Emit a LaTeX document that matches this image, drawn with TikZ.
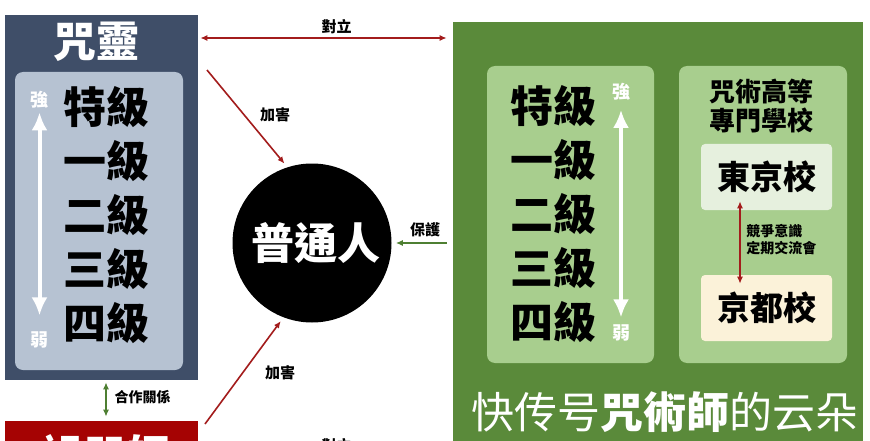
\documentclass[tikz,border=0pt]{standalone}
\usepackage{fontspec}
\setmainfont{Noto Sans CJK TC}
\usetikzlibrary{arrows.meta}

\definecolor{curseblue}{HTML}{3F4E68}
\definecolor{curselight}{HTML}{B6C2D2}
\definecolor{sorcgreen}{HTML}{5A8A3A}
\definecolor{sorclight}{HTML}{A8CE8E}
\definecolor{tokyofill}{HTML}{E6F0DE}
\definecolor{kyotofill}{HTML}{FBF2D9}
\definecolor{hurtred}{HTML}{A31C1C}
\definecolor{boxred}{HTML}{A50303}
\definecolor{helpgreen}{HTML}{4E7F32}

\begin{document}
\begin{tikzpicture}[x=1pt,y=-1pt,semithick,
  >={Latex[length=7pt,width=6pt]},
  panel/.style={rectangle,inner sep=0pt},
  grade/.style={font=\fontsize{43}{43}\selectfont\bfseries},
  big/.style={font=\fontsize{43}{43}\selectfont\bfseries,text=white},
  tag/.style={font=\fontsize{15}{15}\selectfont\bfseries},
  strongweak/.style={font=\fontsize{18}{18}\selectfont\bfseries,text=white,inner sep=0pt},
  hurt/.style={hurtred,line width=1.6pt},
  help/.style={helpgreen,line width=1.6pt},
  updown/.style={white,line width=4pt,{Latex[length=18pt,width=16pt]}-{Latex[length=18pt,width=16pt]}}]

  \useasboundingbox (0,0) rectangle (870,441);
  \clip (0,0) rectangle (870,441);
  \fill[white] (0,0) rectangle (870,441);

  % curses
  \node[panel,fill=curseblue,minimum width=193pt,minimum height=365pt] (curse) at (101.5,197.5) {};
  \node[big] (cursename) at (96.5,42) {咒靈};
  \node[panel,fill=curselight,rounded corners=8pt,minimum width=168pt,minimum height=298pt] (cursebox) at (99,221) {};
  \begin{scope}[node distance=54pt]
    \node[grade] (c0) at (106,107) {特級};
    \node[grade] (c1) [below of=c0] {一級};
    \node[grade] (c2) [below of=c1] {二級};
    \node[grade] (c3) [below of=c2] {三級};
    \node[grade] (c4) [below of=c3] {四級};
  \end{scope}
  \node[strongweak] (cs) at (39.5,100) {強};
  \node[strongweak] (cw) at (39.5,340) {弱};
  \draw[updown] (cs) -- (cw) [shorten <=3.5pt,shorten >=16pt];

  % curse users
  \node[panel,fill=boxred,minimum width=193pt,minimum height=98pt] (users) at (101.5,470) {};
  \node[big] (usersname) at (105,455) {詛咒師};

  % sorcerers
  \node[panel,fill=sorcgreen,minimum width=410pt,minimum height=498pt] (jujutsu) at (658,271) {};
  \node[panel,fill=sorclight,rounded corners=8pt,minimum width=167pt,minimum height=297pt] (sorcbox) at (570.5,214.5) {};
  \begin{scope}[node distance=54pt]
    \node[grade] (s0) at (553.5,106.5) {特級};
    \node[grade] (s1) [below of=s0] {一級};
    \node[grade] (s2) [below of=s1] {二級};
    \node[grade] (s3) [below of=s2] {三級};
    \node[grade] (s4) [below of=s3] {四級};
  \end{scope}
  \node[strongweak] (ss) at (621,92) {強};
  \node[strongweak] (sw) at (621,333) {弱};
  \draw[updown] (ss) -- (sw) [shorten <=9pt,shorten >=7pt];

  \node[panel,fill=sorclight,rounded corners=8pt,minimum width=168pt,minimum height=297pt] (schoolbox) at (763,214.5) {};
  \node[align=center,font=\fontsize{26}{29}\selectfont\bfseries] (school) at (761.5,106.5) {咒術高等\\專門學校};
  \node[panel,fill=tokyofill,rounded corners=4pt,minimum width=131pt,minimum height=66pt] (tokyo) at (766.5,177) {};
  \node[font=\fontsize{33}{33}\selectfont\bfseries] (tokyoname) at (767,177) {東京校};
  \node[panel,fill=kyotofill,rounded corners=4pt,minimum width=131pt,minimum height=66pt] (kyoto) at (766.5,308) {};
  \node[font=\fontsize{33}{33}\selectfont\bfseries] (kyotoname) at (767,308) {京都校};
  \draw[hurt,<->,shorten <=-9pt,shorten >=-9pt] ([xshift=-26.5pt]tokyo.south) -- ([xshift=-26.5pt]kyoto.north);
  \node[anchor=west,align=left,inner sep=0pt,font=\fontsize{14}{17}\selectfont\bfseries] (rival) at (746,239.5) {競爭意識\\定期交流會};

  \node[font=\fontsize{43}{43}\selectfont,text=white] (wm) at (665,412) {快传号{\bfseries 咒術師}的云朵};

  % ordinary people
  \node[circle,fill=black,minimum size=159pt,inner sep=0pt] (ppl) at (312,243) {};
  \node[big] (pplname) at (316,243) {普通人};

  % relations
  \coordinate (ytop) at (0,38);
  \draw[hurt,<->,shorten <=2pt,shorten >=6pt] (curse.east |- ytop) -- (jujutsu.west |- ytop);
  \node[tag] (fight1) at (336.5,27) {對立};

  \coordinate (h1) at (207,70);
  \draw[hurt,->,shorten >=4.5pt] (h1) -- (ppl.108.6);
  \node[tag] (hurt1) at (275,115) {加害};

  \coordinate (h2) at (205,424);
  \draw[hurt,->,shorten >=4.5pt] (h2) -- (ppl.249.8);
  \node[tag] (hurt2) at (280,373) {加害};

  \draw[help,->,shorten <=6pt,shorten >=4pt] (jujutsu.west |- ppl) -- (ppl.east);
  \node[tag] (guard) at (425,229.5) {保護};

  \draw[help,<->,shorten <=2pt,shorten >=4pt] ([xshift=4.5pt]curse.south) -- ([xshift=4.5pt]users.north);
  \node[tag,font=\fontsize{14}{14}\selectfont\bfseries] (coop) at (142.5,397) {合作關係};

  \node[tag] (fight2) at (336.5,446) {對立};
\end{tikzpicture}
\end{document}
